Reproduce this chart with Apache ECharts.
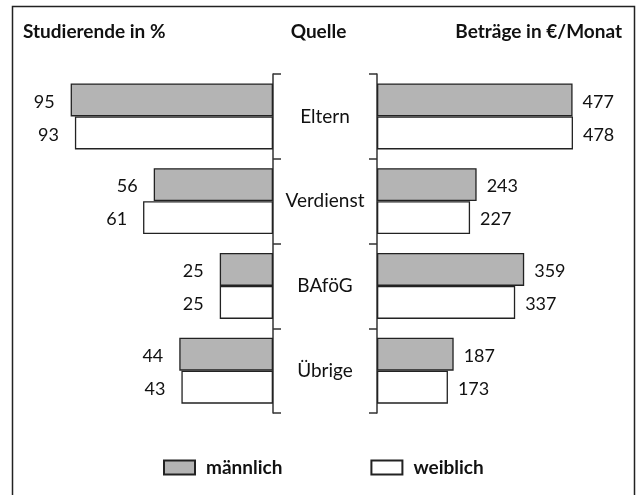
<!DOCTYPE html>
<html>
<head>
<meta charset="utf-8">
<script src="https://cdn.jsdelivr.net/npm/echarts@6/dist/echarts.min.js"></script>
<style>
  html, body { margin: 0; padding: 0; background: #fff; }
  #chart { width: 637px; height: 495px; }
</style>
</head>
<body>
<div id="chart"></div>
<script>
// Quellen der Studienfinanzierung
const categories = ['Eltern', 'Verdienst', 'BAföG', 'Übrige'];
const shareMale = [95, 56, 25, 44];      // Studierende in %
const shareFemale = [93, 61, 25, 43];
const amountMale = [477, 243, 359, 187]; // Beträge in €/Monat
const amountFemale = [478, 227, 337, 173];
const seriesNames = ['männlich', 'weiblich'];

const font = 'Lato, "Open Sans", sans-serif';
const maleStyle = { color: '#b4b4b4', borderColor: '#222', borderWidth: 1.3 };
const femaleStyle = { color: '#ffffff', borderColor: '#222', borderWidth: 1.3 };
const axisLine = { show: true, lineStyle: { color: '#333', width: 1.5 } };
const axisTick = { show: true, length: 8, lineStyle: { color: '#333', width: 1.5 } };

function barSeries(name, data, style, side) {
    return {
        name: name,
        type: 'bar',
        data: data,
        xAxisIndex: side,
        yAxisIndex: side,
        barWidth: 33,
        barGap: '0%',
        itemStyle: style,
        label: {
            show: true,
            position: side === 0 ? 'left' : 'right',
            distance: side === 0 ? 16 : 10,
            offset: [0, 2],
            color: '#111',
            fontFamily: font,
            fontSize: 18
        }
    };
}

const chart = echarts.init(document.getElementById('chart'), null, { renderer: 'canvas' });

chart.setOption({
    animation: false,
    backgroundColor: '#fff',
    grid: [
        { left: 60, right: 364, top: 74, bottom: 82 },
        { left: 377, right: 55, top: 74, bottom: 82 }
    ],
    xAxis: [
        { gridIndex: 0, type: 'value', min: 0, max: 100, inverse: true, show: false },
        { gridIndex: 1, type: 'value', min: 0, max: 500, show: false }
    ],
    yAxis: [
        {
            gridIndex: 0, type: 'category', data: categories, inverse: true,
            position: 'right', axisLine: axisLine, axisTick: axisTick,
            axisLabel: { show: false }
        },
        {
            gridIndex: 1, type: 'category', data: categories, inverse: true,
            position: 'left', axisLine: axisLine, axisTick: axisTick,
            axisLabel: {
                show: true, margin: 52, align: 'center',
                color: '#111', fontFamily: font, fontSize: 19
            }
        }
    ],
    legend: {
        data: seriesNames,
        icon: 'rect',
        left: 158,
        top: 453,
        itemWidth: 31,
        itemHeight: 14,
        itemGap: 88,
        textStyle: {
            color: '#111', fontFamily: font, fontSize: 19, fontWeight: 'bold',
            padding: [0, 0, 0, 6]
        }
    },
    series: [
        barSeries(seriesNames[0], shareMale, maleStyle, 0),
        barSeries(seriesNames[1], shareFemale, femaleStyle, 0),
        barSeries(seriesNames[0], amountMale, maleStyle, 1),
        barSeries(seriesNames[1], amountFemale, femaleStyle, 1)
    ],
    graphic: [
        {
            type: 'rect', silent: true,
            shape: { x: 12.5, y: 6.5, width: 622, height: 500 },
            style: { fill: 'none', stroke: '#222', lineWidth: 1.5 }
        },
        {
            type: 'text', left: 23, top: 22,
            style: { text: 'Studierende in %', fill: '#111', font: 'bold 19px ' + font }
        },
        {
            type: 'text', left: 'center', top: 22, x: 6,
            style: { text: 'Quelle', fill: '#111', font: 'bold 19px ' + font }
        },
        {
            type: 'text', right: 15, top: 22,
            style: { text: 'Beträge in €/Monat', fill: '#111', font: 'bold 19px ' + font }
        }
    ]
});
</script>
</body>
</html>
